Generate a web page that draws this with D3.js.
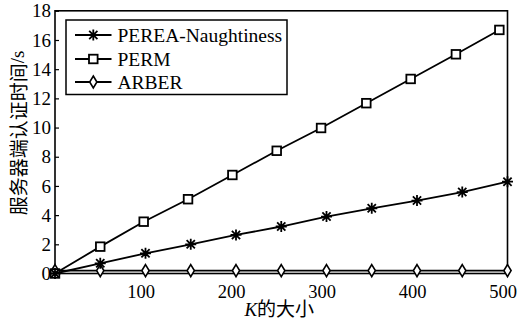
<!DOCTYPE html>
<html>
<head>
<meta charset="utf-8">
<script src="https://cdn.jsdelivr.net/npm/d3@7"></script>
<style>
  body { margin: 0; background: #fff; }
  svg { display: block; }
  .lat { font-family: "Liberation Serif"; }
  .cjk { font-family: "Noto Sans CJK SC"; }
</style>
</head>
<body>
<div id="chart"></div>
<script>
const kValues = [0, 50, 100, 150, 200, 250, 300, 350, 400, 450, 500];
const permK = [0, 50, 98, 147, 196, 245, 294, 344, 393, 443, 491];
const pereaTime = [0, 0.70, 1.38, 2.0, 2.64, 3.22, 3.9, 4.47, 5.0, 5.58, 6.29];
const permTime = [0, 1.84, 3.55, 5.09, 6.75, 8.41, 9.97, 11.67, 13.33, 15.02, 16.69];
const arberTime = [0.2, 0.2, 0.2, 0.2, 0.2, 0.2, 0.2, 0.2, 0.2, 0.2, 0.2];
const seriesNames = ["PEREA-Naughtiness", "PERM", "ARBER"];
const xTicks = [100, 200, 300, 400, 500];
const yTicks = [0, 2, 4, 6, 8, 10, 12, 14, 16, 18];

const width = 517, height = 322;
const plotLeft = 55, plotRight = 507.5, plotTop = 10.8, plotBottom = 273.5;

const svg = d3.select("#chart")
  .append("svg")
  .attr("width", width)
  .attr("height", height);

const x = d3.scaleLinear().domain([0, 500]).range([plotLeft, plotRight]);
const y = d3.scaleLinear().domain([0, 18]).range([plotBottom, plotTop]);

// y axis: inward ticks, labels on the left
const yAxis = svg.append("g")
  .attr("transform", `translate(${plotLeft},0)`)
  .call(d3.axisRight(y).tickValues(yTicks).tickSize(4).tickFormat(""));
yAxis.select(".domain").remove();
yAxis.selectAll("line").attr("stroke", "#000").attr("stroke-width", 1.2);

svg.append("g")
  .selectAll("text")
  .data(yTicks)
  .enter()
  .append("text")
  .attr("class", "lat")
  .attr("x", plotLeft - 4)
  .attr("y", d => y(d))
  .attr("dy", "0.35em")
  .attr("text-anchor", "end")
  .style("font-size", "19px")
  .text(d => d);

svg.append("g")
  .selectAll("text")
  .data(xTicks)
  .enter()
  .append("text")
  .attr("class", "lat")
  .attr("x", d => x(d) - 4.5)
  .attr("y", 298)
  .attr("text-anchor", "middle")
  .style("font-size", "18.5px")
  .text(d => d);

// frame
svg.append("rect")
  .attr("x", plotLeft)
  .attr("y", plotTop)
  .attr("width", plotRight - plotLeft)
  .attr("height", plotBottom - plotTop)
  .attr("fill", "none")
  .attr("stroke", "#000")
  .attr("stroke-width", 1.6);

// axis titles
const yt = svg.append("text")
  .attr("transform", `translate(16.5,133) rotate(-90)`)
  .attr("text-anchor", "middle")
  .attr("dominant-baseline", "central")
  .style("font-size", "19px");
yt.append("tspan").attr("class", "cjk").text("服务器端认证时间");
yt.append("tspan").attr("class", "lat").text("/s");

const xt = svg.append("text")
  .attr("x", (plotLeft + plotRight) / 2 - 2)
  .attr("y", 316)
  .attr("text-anchor", "middle")
  .style("font-size", "19px");
xt.append("tspan").attr("class", "lat").style("font-style", "italic").text("K");
xt.append("tspan").attr("class", "cjk").text("的大小");

// markers
function drawMarker(sel, type) {
  if (type === "star") {
    const r = 5.5;
    sel.append("path")
      .attr("d", `M${-r},0H${r}M0,${-r}V${r}M${-r * 0.75},${-r * 0.75}L${r * 0.75},${r * 0.75}M${-r * 0.75},${r * 0.75}L${r * 0.75},${-r * 0.75}`)
      .attr("stroke", "#000")
      .attr("stroke-width", 1.8)
      .attr("fill", "none");
  } else if (type === "square") {
    sel.append("rect")
      .attr("x", -4.3).attr("y", -4.3)
      .attr("width", 8.6).attr("height", 8.6)
      .attr("fill", "#fff")
      .attr("stroke", "#000")
      .attr("stroke-width", 1.8);
  } else {
    sel.append("path")
      .attr("d", "M0,-6L3.6,0L0,6L-3.6,0Z")
      .attr("fill", "#fff")
      .attr("stroke", "#000")
      .attr("stroke-width", 1.6);
  }
}

const series = [
  { name: seriesNames[0], xs: kValues, ys: pereaTime, marker: "star" },
  { name: seriesNames[1], xs: permK, ys: permTime, marker: "square" },
  { name: seriesNames[2], xs: kValues, ys: arberTime, marker: "diamond" }
];

const line = d3.line()
  .x(d => x(d[0]))
  .y(d => y(d[1]));

series.slice().reverse().forEach(s => {
  const pts = s.xs.map((k, i) => [k, s.ys[i]]);

  svg.append("path")
    .datum(pts)
    .attr("d", line)
    .attr("fill", "none")
    .attr("stroke", "#000")
    .attr("stroke-width", 1.8);

  svg.append("g")
    .selectAll("g")
    .data(pts)
    .enter()
    .append("g")
    .attr("transform", d => `translate(${x(d[0])},${y(d[1])})`)
    .each(function () { drawMarker(d3.select(this), s.marker); });
});

// legend
const legend = svg.append("g");
legend.append("rect")
  .attr("x", 66)
  .attr("y", 20)
  .attr("width", 221)
  .attr("height", 74.5)
  .attr("fill", "#fff")
  .attr("stroke", "#000")
  .attr("stroke-width", 1.5);

const rowY = [35, 59, 82];
series.forEach((s, i) => {
  const row = legend.append("g").attr("transform", `translate(0,${rowY[i]})`);
  row.append("line")
    .attr("x1", 75).attr("x2", 111.5)
    .attr("y1", 0).attr("y2", 0)
    .attr("stroke", "#000")
    .attr("stroke-width", 1.8);
  drawMarker(row.append("g").attr("transform", "translate(93.3,0)"), s.marker);
  row.append("text")
    .attr("class", "lat")
    .attr("x", 117.5)
    .attr("y", 6.5)
    .style("font-size", "19.5px")
    .text(s.name);
});
</script>
</body>
</html>
